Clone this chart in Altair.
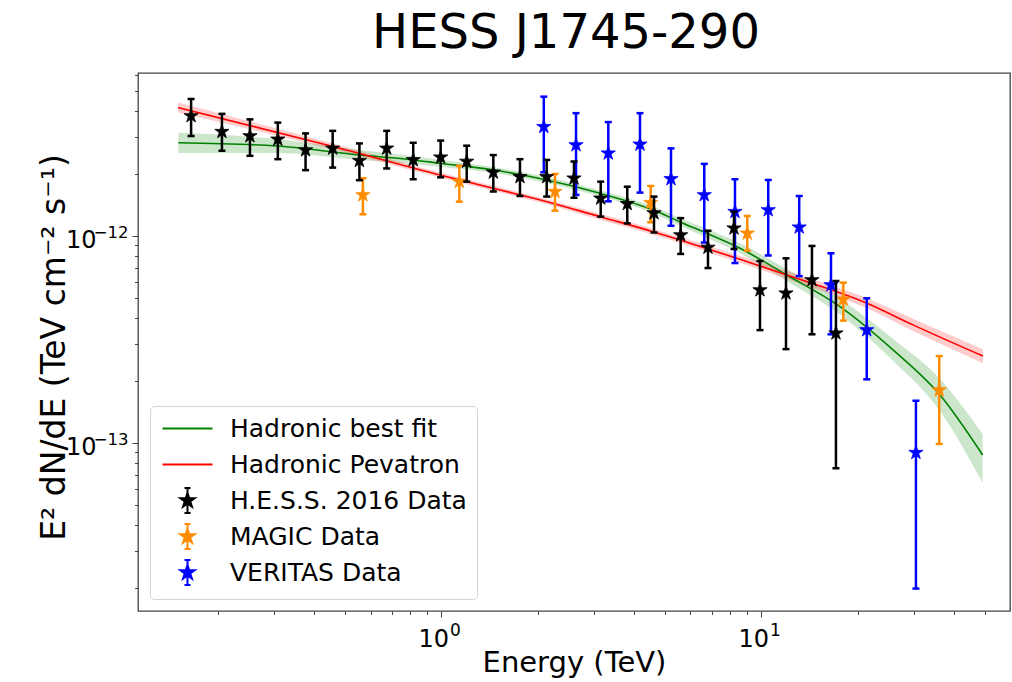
import altair as alt
import pandas as pd

TITLE = "HESS J1745-290"
X_TITLE = "Energy (TeV)"
Y_TITLE = "E² dN/dE (TeV cm⁻² s⁻¹)"

SERIES = ["Hadronic best fit", "Hadronic Pevatron", "H.E.S.S. 2016 Data", "MAGIC Data", "VERITAS Data"]
COLORS = ["#008000", "#ff0000", "#000000", "#ff8c00", "#0000ff"]

# ---- data (flux values in units of 1e-12 TeV cm^-2 s^-1) ----
hess_e = [0.165, 0.206, 0.252, 0.308, 0.376, 0.457, 0.554, 0.674, 0.816, 0.994, 1.199, 1.452, 1.759,
          2.132, 2.595, 3.145, 3.807, 4.615, 5.591, 6.805, 8.206, 9.893, 11.93, 14.38, 17.09]
hess_f = [3.80, 3.19, 3.04, 2.93, 2.60, 2.65, 2.31, 2.65, 2.33, 2.40, 2.29, 2.03, 1.93,
          1.93, 1.90, 1.52, 1.43, 1.29, 1.01, 0.880, 1.09, 0.548, 0.529, 0.613, 0.339]
hess_hi = [4.59, 3.89, 3.66, 3.53, 3.13, 3.22, 2.80, 3.22, 2.82, 2.89, 2.73, 2.46, 2.35,
           2.33, 2.29, 1.83, 1.73, 1.55, 1.22, 1.06, 1.31, 0.757, 0.780, 0.895, 0.606]
hess_lo = [3.04, 2.58, 2.44, 2.35, 2.08, 2.14, 1.86, 2.12, 1.88, 1.92, 1.83, 1.64, 1.56,
           1.55, 1.53, 1.24, 1.15, 1.04, 0.819, 0.700, 0.865, 0.351, 0.284, 0.335, 0.0755]

magic_e = [0.568, 1.137, 2.263, 4.506, 9.03, 18.02, 35.94]
magic_f = [1.578, 1.83, 1.637, 1.448, 1.03, 0.494, 0.180]
magic_hi = [1.90, 2.18, 1.993, 1.744, 1.249, 0.595, 0.263]
magic_lo = [1.273, 1.465, 1.325, 1.165, 0.849, 0.390, 0.0989]

veritas_e = [2.088, 2.633, 3.321, 4.172, 5.215, 6.626, 8.264, 10.50, 13.12, 16.49, 21.33, 30.39]
veritas_f = [3.37, 2.75, 2.51, 2.77, 1.886, 1.578, 1.31, 1.335, 1.102, 0.580, 0.3514, 0.0898]
veritas_hi = [4.71, 3.92, 3.55, 3.92, 2.65, 2.23, 1.88, 1.865, 1.56, 0.825, 0.500, 0.160]
veritas_lo = [2.03, 1.58, 1.47, 1.62, 1.12, 0.93, 0.74, 0.805, 0.64, 0.335, 0.203, 0.0198]

best_e = [0.1505, 0.3055, 0.5563, 0.8163, 0.989, 1.452, 2.132, 3.128, 4.591, 5.564, 6.744, 8.566,
          11.99, 17.59, 25.82, 36.13, 49.12]
best_f = [2.82, 2.72, 2.46, 2.33, 2.245, 2.084, 1.864, 1.608, 1.335, 1.169, 1.030, 0.872,
          0.648, 0.456, 0.281, 0.1705, 0.0875]
best_hi = [3.15, 2.94, 2.60, 2.43, 2.335, 2.155, 1.927, 1.663, 1.388, 1.222, 1.083, 0.922,
           0.693, 0.498, 0.318, 0.204, 0.1105]
best_lo = [2.52, 2.52, 2.33, 2.23, 2.159, 2.015, 1.803, 1.555, 1.284, 1.119, 0.980, 0.825,
           0.606, 0.417, 0.249, 0.1427, 0.0641]

pev_e = [0.1502, 0.4483, 0.9892, 1.449, 2.136, 3.128, 4.581, 5.564, 8.566, 12.01, 21.37, 29.74, 49.22]
pev_f = [4.17, 2.73, 1.971, 1.700, 1.465, 1.239, 1.049, 0.956, 0.772, 0.648, 0.473, 0.372, 0.263]
pev_hi = [4.41, 2.82, 2.026, 1.748, 1.506, 1.281, 1.085, 0.988, 0.803, 0.677, 0.500, 0.398, 0.284]
pev_lo = [3.95, 2.64, 1.917, 1.654, 1.425, 1.198, 1.015, 0.925, 0.742, 0.620, 0.447, 0.348, 0.243]

UNIT = 1e-12

# ---- axes ----
X_DOMAIN = [0.1126, 59.8]
Y_DOMAIN = [1.543e-14, 6.128e-12]
x_ticks = [0.2, 0.3, 0.4, 0.5, 0.6, 0.7, 0.8, 0.9, 1, 2, 3, 4, 5, 6, 7, 8, 9, 10, 20, 30, 40, 50]
x_major = [1, 10]
x_major_base = ["10", "10"]
x_major_exp = ["0", "1"]
y_ticks = [2e-14, 3e-14, 4e-14, 5e-14, 6e-14, 7e-14, 8e-14, 9e-14, 1e-13,
           2e-13, 3e-13, 4e-13, 5e-13, 6e-13, 7e-13, 8e-13, 9e-13, 1e-12,
           2e-12, 3e-12, 4e-12, 5e-12, 6e-12]
y_major = [1e-13, 1e-12]
y_major_base = ["10", "10"]
y_major_exp = ["\u221213", "\u221212"]

STAR = ("M0,-0.75L0.1684,-0.2318L0.7133,-0.2318L0.2725,0.0885L0.4408,0.6068L0,0.2865"
        "L-0.4408,0.6068L-0.2725,0.0885L-0.7133,-0.2318L-0.1684,-0.2318Z")
ERRBAR = "M0,-1.25L0,1.25M-0.3,-1.25L0.3,-1.25M-0.3,1.25L0.3,1.25"
LINE_GLYPH = "M-2.5,0L2.5,0M0,-1.3L0,-1.3M0,1.3L0,1.3"
LEGEND_SHAPES = [LINE_GLYPH, LINE_GLYPH, ERRBAR + STAR, ERRBAR + STAR, ERRBAR + STAR]


def label_expr(vals, labels):
    parts = [f"datum.value == {v} ? '{l}'" for v, l in zip(vals, labels)]
    return " : ".join(parts) + " : ''"


def major_test(vals):
    return " || ".join(f"datum.value == {v}" for v in vals)


COMMON = dict(grid=False, domain=False, labelOverlap=False, labelFlush=False,
              labelBaseline="alphabetic", labelColor="black")

x_axis_main = alt.Axis(
    orient="bottom", values=x_ticks, labelExpr=label_expr(x_major, x_major_base),
    tickSize={"condition": {"test": major_test(x_major), "value": 6}, "value": 3.5},
    tickColor="#444", tickWidth=1, labelFontSize=24, labelPadding=29, labelAlign="right",
    labelOffset=7, title=X_TITLE, titleFontSize=29, titleFontWeight="normal",
    titleY=60, titleBaseline="alphabetic", **COMMON,
)
x_axis_exp = alt.Axis(
    orient="bottom", values=x_major, labelExpr=label_expr(x_major, x_major_exp), ticks=False,
    labelFontSize=17, labelPadding=24, labelAlign="left", labelOffset=8, title=None, **COMMON,
)
y_axis_main = alt.Axis(
    orient="left", values=y_ticks, labelExpr=label_expr(y_major, y_major_base),
    tickSize={"condition": {"test": major_test(y_major), "value": 6}, "value": 3.5},
    tickColor="#444", tickWidth=1, labelFontSize=24, labelPadding=36, labelAlign="right",
    labelOffset=12, title=Y_TITLE, titleFontSize=33, titleFontWeight="normal",
    titleX=-74, titleY=274, titleAngle=270, titleBaseline="alphabetic", titleAlign="center",
    **COMMON,
)
y_axis_exp = alt.Axis(
    orient="left", values=y_major, labelExpr=label_expr(y_major, y_major_exp), ticks=False,
    labelFontSize=16.5, labelPadding=10, labelAlign="right", labelOffset=2, title=None, **COMMON,
)


def X(field, axis=None):
    return alt.X(f"{field}:Q", scale=alt.Scale(type="log", domain=X_DOMAIN, nice=False), axis=axis)


def Y(field, axis=None):
    return alt.Y(f"{field}:Q", scale=alt.Scale(type="log", domain=Y_DOMAIN, nice=False), axis=axis)


def frame(e, f, lo, hi):
    return pd.DataFrame({
        "E": e,
        "F": [v * UNIT for v in f],
        "lo": [v * UNIT for v in lo],
        "hi": [v * UNIT for v in hi],
    })


best = frame(best_e, best_f, best_lo, best_hi)
pev = frame(pev_e, pev_f, pev_lo, pev_hi)
hess = frame(hess_e, hess_f, hess_lo, hess_hi)
magic = frame(magic_e, magic_f, magic_lo, magic_hi)
veritas = frame(veritas_e, veritas_f, veritas_lo, veritas_hi)


def band(df, color, xa=None, ya=None):
    return alt.Chart(df).mark_area(color=color, opacity=0.2, interpolate="monotone").encode(
        x=X("E", xa), y=Y("lo", ya), y2=alt.Y2("hi:Q"))


def curve(df, color, xa=None, ya=None):
    return alt.Chart(df).mark_line(color=color, strokeWidth=1.6, interpolate="monotone").encode(
        x=X("E", xa), y=Y("F", ya))


def data_layers(df, color):
    bars = alt.Chart(df).mark_rule(color=color, strokeWidth=2.5).encode(
        x=X("E"), y=Y("lo"), y2=alt.Y2("hi:Q"))
    caps = alt.Chart(df).transform_fold(["lo", "hi"], as_=["end", "val"]).mark_point(
        shape="stroke", size=49, stroke=color, strokeWidth=2.5, opacity=1, filled=False
    ).encode(x=X("E"), y=Y("val"))
    stars = alt.Chart(df).mark_point(
        shape=STAR, size=400, filled=True, fill=color, stroke=color, strokeWidth=0.8, opacity=1
    ).encode(x=X("E"), y=Y("F"))
    return [bars, caps, stars]


legend_df = pd.DataFrame({"series": SERIES})
color_scale = alt.Scale(domain=SERIES, range=COLORS)
legend_layer = alt.Chart(legend_df).transform_filter("false").mark_point(filled=True, opacity=1).encode(
    fill=alt.Fill("series:N", scale=color_scale, legend=alt.Legend(title=None)),
    stroke=alt.Stroke("series:N", scale=color_scale, legend=alt.Legend(title=None)),
    shape=alt.Shape("series:N", scale=alt.Scale(domain=SERIES, range=LEGEND_SHAPES),
                    legend=alt.Legend(title=None)),
)

layers = [band(best, COLORS[0], x_axis_main, y_axis_main), band(pev, COLORS[1]),
          curve(best, COLORS[0], x_axis_exp, y_axis_exp), curve(pev, COLORS[1])]
layers += data_layers(veritas, COLORS[4])
layers += data_layers(magic, COLORS[3])
layers += data_layers(hess, COLORS[2])
layers.append(legend_layer)

chart = alt.layer(*layers).resolve_axis(x="independent", y="independent").properties(
    width=872, height=538,
    autosize=alt.AutoSizeParams(type="none"),
    padding={"left": 138, "top": 73, "right": 2, "bottom": 71},
    title=alt.Title(TITLE, fontSize=48, font="DejaVu Sans", fontWeight="normal", color="black",
                    anchor="middle", offset=23, baseline="alphabetic", dx=-8, dy=51),
).configure(
    font="DejaVu Sans", background="white"
).configure_view(
    stroke="#444", strokeWidth=1.3
).configure_axis(
    labelFont="DejaVu Sans", titleFont="DejaVu Sans", labelColor="black", titleColor="black"
).configure_legend(
    orient="bottom-left", offset=12, direction="vertical", padding=10,
    strokeColor="#d4d4d4", fillColor="white", cornerRadius=4,
    labelFont="DejaVu Sans", labelFontSize=25, labelColor="black", labelLimit=400,
    symbolSize=400, symbolStrokeWidth=2, symbolOffset=15, labelOffset=30,
    rowPadding=1, gridAlign="all",
)

chart.save("out.html", embed_options={"renderer": "svg", "actions": False})
